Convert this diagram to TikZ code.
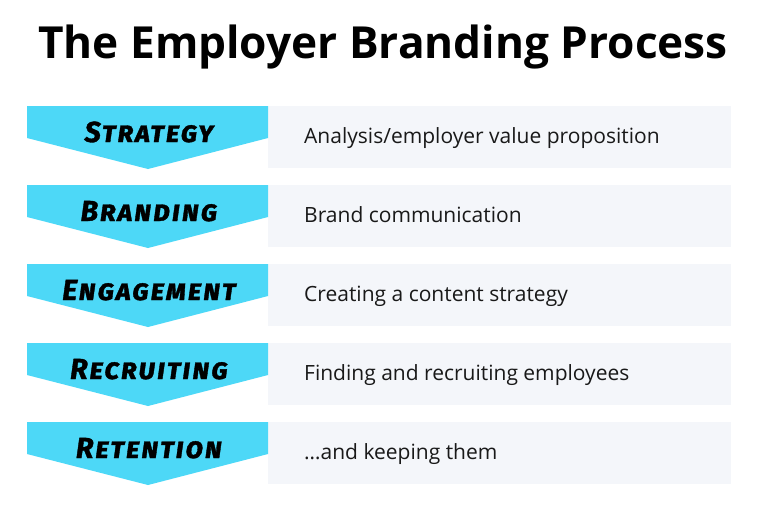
\documentclass[tikz,border=0pt]{standalone}
\usepackage{fontspec}
\setmainfont{Open Sans}
\newfontfamily\markerfont{Fira Sans}[Letters=SmallCaps, LetterSpace=6, BoldItalicFeatures={FakeBold=1.2}]
\definecolor{chevcyan}{HTML}{4DD8F7}
\definecolor{rowgrey}{HTML}{F4F6FA}
\tikzset{
  chevron/.style={fill=chevcyan, draw=none},
  rowbox/.style={fill=rowgrey, draw=none},
  steplabel/.style={font=\markerfont\bfseries\itshape\fontsize{29}{30}\selectfont, anchor=base, inner sep=0pt},
  desclabel/.style={font=\fontsize{21}{24}\selectfont, anchor=base west, inner sep=0pt, text=black!90},
  titlelabel/.style={font=\bfseries\fontsize{44.2}{50}\selectfont, anchor=base, inner sep=0pt}
}
\begin{document}
\begin{tikzpicture}[x=1pt,y=-1pt]
\useasboundingbox (0,0) rectangle (762,512);
\fill[white] (0,0) rectangle (762,512);
\node[titlelabel] (title) at (383,58) {The Employer Branding Process};
\foreach \t/\lab/\desc/\nm in {106/Strategy/Analysis\slash employer value proposition/s1,
  185/Branding/Brand communication/s2,
  264/Engagement/Creating a content strategy/s3,
  343/Recruiting/Finding and recruiting employees/s4,
  422/Retention/\dots and keeping them/s5}{
  \fill[rowbox] (268,\t) rectangle (731,\t+62);
  \fill[chevron] (27,\t) -- (268,\t) -- (268,\t+32) -- (148,\t+63) -- (27,\t+32) -- cycle;
  \node[steplabel] (\nm-step) at (149,\t+36) {\lab};
  \node[desclabel] (\nm-desc) at (304,\t+37) {\desc};
}
\end{tikzpicture}
\end{document}
